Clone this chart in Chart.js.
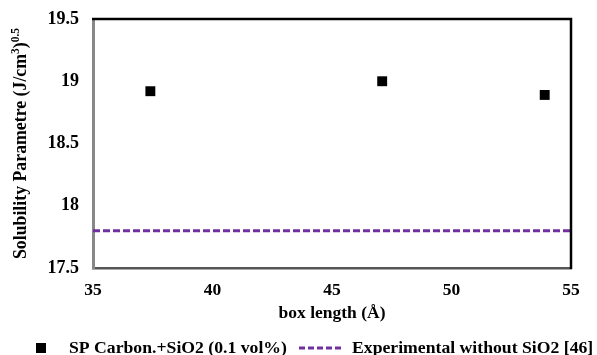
<!DOCTYPE html>
<html>
<head>
<meta charset="utf-8">
<script src="https://cdn.jsdelivr.net/npm/chart.js@4.4.1/dist/chart.umd.min.js"></script>
<style>
  html, body { margin: 0; padding: 0; background: #fff; }
  canvas { display: block; }
</style>
</head>
<body>
<canvas id="spChart" width="597" height="355"></canvas>
<script>
// data
const boxLength = [37.4, 47.1, 53.9];
const spValues = [18.92, 19.0, 18.89];
const expValue = 17.8;
const xRange = [35, 55];
const yRange = [17.5, 19.5];
const seriesLabels = ['SP Carbon.+SiO2 (0.1 vol%)', 'Experimental without SiO2 [46]'];

const FONT = '"Liberation Serif", "Times New Roman", serif';
const PURPLE = '#7030a0';

// top + right frame lines (black), left/bottom come from the axis borders
const framePlugin = {
    id: 'frame',
    afterDraw(chart) {
        const { ctx, chartArea: a } = chart;
        ctx.save();
        ctx.strokeStyle = '#000';
        ctx.lineWidth = 2.5;
        ctx.beginPath();
        ctx.moveTo(a.left - 1, a.top);
        ctx.lineTo(a.right, a.top);
        ctx.lineTo(a.right, a.bottom + 1);
        ctx.stroke();
        ctx.restore();
    }
};

// y title with superscripts
const yTitlePlugin = {
    id: 'yTitle',
    afterDraw(chart) {
        const { ctx } = chart;
        const parts = [
            { t: 'Solubility Parametre (J/cm', sup: false },
            { t: '3', sup: true },
            { t: ')', sup: false },
            { t: '0.5', sup: true }
        ];
        const big = 'bold 17.8px ' + FONT;
        const small = 'bold 11.5px ' + FONT;
        ctx.save();
        let total = 0;
        parts.forEach(p => { ctx.font = p.sup ? small : big; p.w = ctx.measureText(p.t).width; total += p.w; });
        ctx.translate(20, 143.5);
        ctx.rotate(-Math.PI / 2);
        ctx.fillStyle = '#000';
        ctx.textBaseline = 'alphabetic';
        let x = -total / 2;
        parts.forEach(p => {
            ctx.font = p.sup ? small : big;
            ctx.fillText(p.t, x, p.sup ? -1 : 6);
            x += p.w;
        });
        ctx.restore();
    }
};

// legend below the x title
const legendPlugin = {
    id: 'bottomLegend',
    afterDraw(chart) {
        const { ctx } = chart;
        const y = 348;
        ctx.save();
        ctx.fillStyle = '#000';
        ctx.fillRect(36, y - 5, 10, 10);
        ctx.font = 'bold 17.7px ' + FONT;
        ctx.textBaseline = 'middle';
        ctx.fillText(seriesLabels[0], 69, y);
        ctx.strokeStyle = PURPLE;
        ctx.lineWidth = 3;
        ctx.setLineDash([6, 3]);
        ctx.beginPath();
        ctx.moveTo(299, y);
        ctx.lineTo(343, y);
        ctx.stroke();
        ctx.setLineDash([]);
        ctx.fillText(seriesLabels[1], 352, y);
        ctx.restore();
    }
};

const ctx = document.getElementById('spChart').getContext('2d');
new Chart(ctx, {
    type: 'scatter',
    data: {
        datasets: [
            {
                label: seriesLabels[0],
                data: boxLength.map((x, i) => ({ x: x, y: spValues[i] })),
                pointStyle: 'rect',
                pointRadius: 7,
                backgroundColor: '#000',
                borderColor: '#000',
                borderWidth: 0
            },
            {
                label: seriesLabels[1],
                type: 'line',
                data: xRange.map(x => ({ x: x, y: expValue })),
                borderColor: PURPLE,
                borderWidth: 3,
                borderDash: [7, 3],
                pointRadius: 0,
                fill: false
            }
        ]
    },
    options: {
        responsive: false,
        animation: false,
        layout: { padding: { left: 0, right: 26, top: 19, bottom: 30 } },
        plugins: { legend: { display: false }, tooltip: { enabled: false } },
        scales: {
            x: {
                type: 'linear',
                min: xRange[0],
                max: xRange[1],
                ticks: { stepSize: 5, padding: 12, color: '#000', font: { family: FONT, size: 17.5, weight: 'bold' } },
                grid: { display: false, drawTicks: false },
                border: { color: '#555', width: 2.5 },
                title: { display: true, text: 'box length (Å)', color: '#000', padding: { top: 0, bottom: 1 }, font: { family: FONT, size: 17.5, weight: 'bold' } },
                afterFit(scale) { scale.height = 57; scale.paddingLeft = 0; scale.paddingRight = 0; }
            },
            y: {
                min: yRange[0],
                max: yRange[1],
                ticks: { stepSize: 0.5, padding: 14, color: '#000', callback: v => String(v), font: { family: FONT, size: 18, weight: 'bold' } },
                grid: { display: false, drawTicks: false },
                border: { color: '#888', width: 3 },
                afterFit(scale) { scale.width = 93; scale.paddingTop = 0; scale.paddingBottom = 0; }
            }
        }
    },
    plugins: [framePlugin, yTitlePlugin, legendPlugin]
});
</script>
</body>
</html>
